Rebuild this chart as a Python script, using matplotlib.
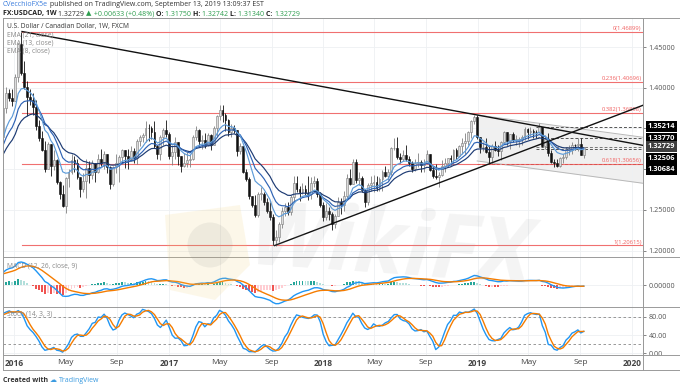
"""
USD/CAD weekly chart in TradingView style: candles with EMAs, fib levels,
trendlines, MACD and stochastic panels.
"""
import numpy as np
import pandas as pd
import matplotlib
matplotlib.use("Agg")
import matplotlib.pyplot as plt
import matplotlib.dates as mdates
import matplotlib.patches as patches

plt.rcParams['font.family'] = ['Open Sans', 'DejaVu Sans']

# ---------------------------------------------------------------- data
FIRST_WEEK = "2015-06-01"
FIRST_OPEN = 1.2420

# weekly closes (2015 includes off-screen warm-up weeks from June)
closes_2015 = [1.2470, 1.2290, 1.2290, 1.2380, 1.2580, 1.2710, 1.2960, 1.3010, 1.3070, 1.3140,
               1.3100, 1.3220, 1.3190, 1.3260, 1.3240, 1.3250, 1.3400, 1.3160, 1.3000, 1.2950,
               1.3180, 1.3070, 1.3300, 1.3340, 1.3360, 1.3370, 1.3390,
               1.3745, 1.3935, 1.3870, 1.3840]
closes_2016 = [1.4130, 1.4540, 1.4185, 1.4010, 1.3880, 1.3855, 1.3765, 1.3530, 1.3380, 1.3240,
               1.3000, 1.3310, 1.3040, 1.3110, 1.2840, 1.2700, 1.2550, 1.2890, 1.2970, 1.3110,
               1.3070, 1.2900, 1.2750, 1.2850, 1.3010, 1.2930, 1.3070, 1.2970, 1.3120, 1.3070,
               1.3180, 1.3030, 1.2820, 1.3020, 1.3080, 1.3150, 1.3240, 1.3160, 1.3120, 1.3220,
               1.3140, 1.3350, 1.3400, 1.3420, 1.3510, 1.3500, 1.3450, 1.3280, 1.3180, 1.3390,
               1.3480, 1.3430]
closes_2017 = [1.3160, 1.3210, 1.3330, 1.3160, 1.3040, 1.3080, 1.3110, 1.3130, 1.3400, 1.3480,
               1.3350, 1.3360, 1.3300, 1.3420, 1.3300, 1.3500, 1.3650, 1.3730, 1.3660, 1.3600,
               1.3450, 1.3500, 1.3480, 1.3220, 1.3280, 1.2970, 1.2880, 1.2670, 1.2560, 1.2430,
               1.2700, 1.2700, 1.2600, 1.2480, 1.2410, 1.2130, 1.2160, 1.2330, 1.2480, 1.2540,
               1.2470, 1.2660, 1.2830, 1.2750, 1.2720, 1.2760, 1.2710, 1.2690, 1.2830, 1.2850,
               1.2690, 1.2560]
closes_2018 = [1.2410, 1.2490, 1.2450, 1.2330, 1.2420, 1.2590, 1.2560, 1.2670, 1.2890, 1.2820,
               1.3090, 1.2860, 1.2890, 1.2740, 1.2590, 1.2800, 1.2830, 1.2840, 1.2770, 1.2880,
               1.2960, 1.2920, 1.2960, 1.3260, 1.3260, 1.3150, 1.3130, 1.3170, 1.3120, 1.3070,
               1.3000, 1.3080, 1.3090, 1.3050, 1.3070, 1.3180, 1.2990, 1.2920, 1.2900, 1.2930,
               1.3040, 1.3080, 1.3140, 1.3120, 1.3230, 1.3160, 1.3280, 1.3320, 1.3340, 1.3450,
               1.3590, 1.3640, 1.3390]
closes_2019 = [1.3270, 1.3270, 1.3210, 1.3150, 1.3280, 1.3240, 1.3220, 1.3330, 1.3450, 1.3340,
               1.3430, 1.3360, 1.3360, 1.3370, 1.3400, 1.3490, 1.3460, 1.3470, 1.3460, 1.3450,
               1.3520, 1.3280, 1.3370, 1.3200, 1.3090, 1.3080, 1.3040, 1.3140, 1.3150, 1.3240,
               1.3240, 1.3300, 1.3290, 1.3310, 1.3175, 1.32729]

highs_2015 = [1.2560, 1.2480, 1.2380, 1.2400, 1.2620, 1.2800, 1.3000, 1.3080, 1.3110, 1.3200,
              1.3180, 1.3260, 1.3350, 1.3300, 1.3330, 1.3320, 1.3460, 1.3460, 1.3180, 1.3030,
              1.3240, 1.3250, 1.3310, 1.3370, 1.3390, 1.3430, 1.3520,
              1.3760, 1.4005, 1.3990, 1.3990]
highs_2016 = [1.4170, 1.4550, 1.4690, 1.4325, 1.4080, 1.3990, 1.3930, 1.3850, 1.3600, 1.3470,
              1.3350, 1.3330, 1.3300, 1.3230, 1.3120, 1.2850, 1.2800, 1.2900, 1.3000, 1.3190,
              1.3160, 1.3130, 1.2900, 1.2950, 1.3120, 1.3100, 1.3110, 1.3040, 1.3180, 1.3250,
              1.3220, 1.3190, 1.3040, 1.3040, 1.3180, 1.3170, 1.3250, 1.3240, 1.3250, 1.3280,
              1.3260, 1.3370, 1.3420, 1.3440, 1.3590, 1.3560, 1.3530, 1.3590, 1.3300, 1.3420,
              1.3510, 1.3600]
highs_2017 = [1.3450, 1.3300, 1.3390, 1.3330, 1.3150, 1.3200, 1.3210, 1.3180, 1.3420, 1.3530,
              1.3490, 1.3420, 1.3440, 1.3440, 1.3430, 1.3530, 1.3670, 1.3790, 1.3790, 1.3690,
              1.3620, 1.3550, 1.3540, 1.3380, 1.3320, 1.3280, 1.3000, 1.2900, 1.2670, 1.2680,
              1.2720, 1.2780, 1.2720, 1.2650, 1.2600, 1.2450, 1.2250, 1.2350, 1.2530, 1.2580,
              1.2600, 1.2680, 1.2910, 1.2920, 1.2790, 1.2830, 1.2810, 1.2920, 1.2900, 1.2920,
              1.2890, 1.2720]
highs_2018 = [1.2600, 1.2580, 1.2530, 1.2470, 1.2450, 1.2660, 1.2640, 1.2730, 1.2940, 1.3000,
              1.3120, 1.3130, 1.2960, 1.2920, 1.2750, 1.2830, 1.2910, 1.2930, 1.2910, 1.2900,
              1.2990, 1.3040, 1.3000, 1.3270, 1.3380, 1.3390, 1.3200, 1.3230, 1.3290, 1.3160,
              1.3100, 1.3130, 1.3200, 1.3110, 1.3120, 1.3230, 1.3190, 1.3040, 1.3060, 1.2960,
              1.3110, 1.3140, 1.3140, 1.3170, 1.3250, 1.3260, 1.3290, 1.3380, 1.3440, 1.3470,
              1.3600, 1.3665, 1.3660]
highs_2019 = [1.3380, 1.3330, 1.3380, 1.3290, 1.3310, 1.3340, 1.3290, 1.3340, 1.3470, 1.3460,
              1.3430, 1.3450, 1.3420, 1.3400, 1.3420, 1.3520, 1.3500, 1.3520, 1.3490, 1.3480,
              1.3565, 1.3520, 1.3420, 1.3440, 1.3230, 1.3130, 1.3130, 1.3150, 1.3190, 1.3270,
              1.3290, 1.3330, 1.3310, 1.3380, 1.3380, 1.32742]

lows_2015 = [1.2350, 1.2270, 1.2160, 1.2250, 1.2350, 1.2550, 1.2680, 1.2900, 1.2950, 1.3010,
             1.2960, 1.3050, 1.3120, 1.3050, 1.3130, 1.3020, 1.3200, 1.3120, 1.2910, 1.2830,
             1.2960, 1.3020, 1.3030, 1.3160, 1.3240, 1.3280, 1.3150,
             1.3380, 1.3690, 1.3835, 1.3780]
lows_2016 = [1.3840, 1.4070, 1.4150, 1.3980, 1.3650, 1.3790, 1.3660, 1.3480, 1.3340, 1.3220,
             1.2970, 1.3000, 1.2920, 1.2990, 1.2820, 1.2630, 1.2530, 1.2460, 1.2780, 1.2940,
             1.2960, 1.2880, 1.2660, 1.2720, 1.2650, 1.2830, 1.2880, 1.2840, 1.2950, 1.3040,
             1.3000, 1.2950, 1.2760, 1.2790, 1.2950, 1.2840, 1.3060, 1.3010, 1.3000, 1.3100,
             1.3080, 1.3060, 1.3280, 1.3330, 1.3330, 1.3350, 1.3370, 1.3260, 1.3120, 1.3110,
             1.3300, 1.3400]
lows_2017 = [1.3120, 1.3050, 1.3130, 1.3050, 1.2970, 1.3030, 1.3020, 1.3030, 1.3110, 1.3360,
             1.3290, 1.3250, 1.3260, 1.3280, 1.3240, 1.3290, 1.3400, 1.3600, 1.3580, 1.3470,
             1.3410, 1.3400, 1.3440, 1.3160, 1.3180, 1.2950, 1.2850, 1.2630, 1.2530, 1.2410,
             1.2410, 1.2620, 1.2560, 1.2460, 1.2370, 1.2070, 1.2061, 1.2110, 1.2280, 1.2420,
             1.2440, 1.2440, 1.2600, 1.2720, 1.2610, 1.2690, 1.2680, 1.2620, 1.2630, 1.2780,
             1.2660, 1.2540]
lows_2018 = [1.2360, 1.2380, 1.2370, 1.2250, 1.2280, 1.2420, 1.2450, 1.2490, 1.2640, 1.2800,
             1.2950, 1.2830, 1.2800, 1.2720, 1.2530, 1.2560, 1.2730, 1.2720, 1.2730, 1.2730,
             1.2730, 1.2900, 1.2870, 1.2930, 1.3230, 1.3130, 1.3070, 1.3100, 1.3100, 1.3040,
             1.2970, 1.2980, 1.3020, 1.2960, 1.2970, 1.3060, 1.2980, 1.2890, 1.2880, 1.2780,
             1.2920, 1.2960, 1.3020, 1.3050, 1.3060, 1.3130, 1.3150, 1.3190, 1.3180, 1.3290,
             1.3380, 1.3560, 1.3370]
lows_2019 = [1.3200, 1.3220, 1.3200, 1.3070, 1.3080, 1.3220, 1.3160, 1.3110, 1.3310, 1.3300,
             1.3250, 1.3330, 1.3300, 1.3270, 1.3300, 1.3360, 1.3370, 1.3410, 1.3380, 1.3380,
             1.3440, 1.3270, 1.3250, 1.3160, 1.3070, 1.3020, 1.3020, 1.3020, 1.3070, 1.3130,
             1.3170, 1.3180, 1.3230, 1.3220, 1.3170, 1.31340]

# fibonacci retracement of the Jan-2016 high to Sep-2017 low
fib_ratios = [0, 0.236, 0.382, 0.618, 1]
fib_labels = ["0(1.46899)", "0.236(1.40696)", "0.382(1.36858)", "0.618(1.30656)", "1(1.20615)"]
fib_high, fib_low = 1.46899, 1.20615
fib_start = "2016-01-20"

# trendline anchors (date, price)
falling_line = [("2016-01-20", 1.4690), ("2018-12-31", 1.3665)]
rising_line = [("2017-09-08", 1.2061), ("2019-01-31", 1.3070)]
channel_top = [("2018-12-31", 1.3665), ("2019-12-31", 1.3410)]
channel_bottom = [("2018-12-31", 1.3100), ("2019-12-31", 1.2845)]

# marked horizontal levels and their price-axis tags
levels = [1.35214, 1.33770, 1.32729, 1.32506, 1.30684]
level_starts = ["2019-05-20", "2019-05-20", "2019-05-20", "2019-05-20", "2018-12-31"]

x_ticks = ["2016-01-01", "2016-05-01", "2016-09-01", "2017-01-01", "2017-05-01", "2017-09-01",
           "2018-01-01", "2018-05-01", "2018-09-01", "2019-01-01", "2019-05-01", "2019-09-01",
           "2020-01-01"]
x_tick_labels = ["2016", "May", "Sep", "2017", "May", "Sep", "2018", "May", "Sep",
                 "2019", "May", "Sep", "2020"]

# ---------------------------------------------------------------- prep
closes = np.array(closes_2015 + closes_2016 + closes_2017 + closes_2018 + closes_2019)
highs = np.array(highs_2015 + highs_2016 + highs_2017 + highs_2018 + highs_2019)
lows = np.array(lows_2015 + lows_2016 + lows_2017 + lows_2018 + lows_2019)
assert len(closes) == len(highs) == len(lows)
weeks = pd.date_range(FIRST_WEEK, periods=len(closes), freq="7D")
xw = mdates.date2num(weeks)
opens = np.concatenate([[FIRST_OPEN], closes[:-1]])
highs = np.maximum(highs, np.maximum(opens, closes))
lows = np.minimum(lows, np.minimum(opens, closes))

s = pd.Series(closes)
emas = {n: s.ewm(span=n, adjust=False).mean().values for n in (21, 13, 8)}
macd = s.ewm(span=12, adjust=False).mean() - s.ewm(span=26, adjust=False).mean()
signal = macd.ewm(span=9, adjust=False).mean()
hist = macd - signal
hh = pd.Series(highs).rolling(14).max()
ll = pd.Series(lows).rolling(14).min()
stoch_k = (100 * (s - ll) / (hh - ll)).rolling(3).mean()
stoch_d = stoch_k.rolling(3).mean()

W, H = 680, 387
def fx(px):
    return px / W
def fy(py):
    return 1 - py / H

def price_at(py):
    """Maps a pixel row of the reference to a price."""
    return 1.45 - (py - 47) / 40.7 * 0.05

x0 = mdates.date2num(pd.Timestamp("2016-01-01"))
def date_at(px):
    return x0 + (px - 14) / 154.5 * 365.25

XLIM = (date_at(3), date_at(643))

def line_through(ax, pts, x_end, **kw):
    (d1, p1), (d2, p2) = pts
    a, b = mdates.date2num(pd.Timestamp(d1)), mdates.date2num(pd.Timestamp(d2))
    slope = (p2 - p1) / (b - a)
    ax.plot([a, x_end], [p1, p1 + slope * (x_end - a)], **kw)
    return a, p1, slope

GRID = '#eef0f3'
AXIS_TXT = '#555555'
BORDER = '#9a9a9a'

# ---------------------------------------------------------------- figure
fig = plt.figure(figsize=(6.8, 3.87), dpi=100)
L, R = fx(3), fx(643)
ax = fig.add_axes([L, fy(257), R - L, fy(18) - fy(257)])
ax_macd = fig.add_axes([L, fy(307), R - L, fy(257) - fy(307)], sharex=ax)
ax_st = fig.add_axes([L, fy(355), R - L, fy(307) - fy(355)], sharex=ax)

for a in (ax, ax_macd, ax_st):
    a.set_facecolor('white')
    for sp in a.spines.values():
        sp.set_color(BORDER)
        sp.set_linewidth(0.7)
    a.yaxis.tick_right()
    a.tick_params(axis='y', labelsize=5.2, colors=AXIS_TXT, length=2, width=0.5, pad=2)
    a.tick_params(axis='y', labelcolor=AXIS_TXT)
    a.tick_params(axis='x', length=0)
    a.set_xticks(mdates.date2num(pd.to_datetime(x_ticks)))
    a.grid(True, color=GRID, linewidth=0.6)
    a.set_axisbelow(True)
ax.tick_params(axis='x', labelbottom=False)
ax_macd.tick_params(axis='x', labelbottom=False)
ax.set_xlim(*XLIM)

# ---- main panel
ax.set_ylim(price_at(257), price_at(18))
ax.set_yticks([1.20, 1.25, 1.30, 1.35, 1.40, 1.45])
ax.set_yticklabels(["1.20000", "1.25000", "", "", "1.40000", "1.45000"])

x_right = XLIM[1]
fib_x = mdates.date2num(pd.Timestamp(fib_start))
for r, lab in zip(fib_ratios, fib_labels):
    lvl = fib_high - r * (fib_high - fib_low)
    ax.plot([fib_x, x_right], [lvl, lvl], color='#f07070', lw=0.8, zorder=1)
    ax.text(x_right - 3, lvl + 0.0012, lab, color='#f06060', fontsize=4.2,
            ha='right', va='bottom', zorder=1)

# channel shading
a0, p0, k0 = line_through(ax, channel_top, x_right, color='#b8b8b8', lw=0.7, zorder=1)
a1, p1, k1 = line_through(ax, channel_bottom, x_right, color='#b8b8b8', lw=0.7, zorder=1)
xs = np.array([a0, x_right])
ax.fill_between(xs, p1 + k1 * (xs - a1), p0 + k0 * (xs - a0), color='#e6e6e6',
                alpha=0.6, lw=0, zorder=0.5)

for lvl, st in zip(levels, level_starts):
    xs_ = mdates.date2num(pd.Timestamp(st))
    col = '#d9534f' if lvl < 1.31 else '#555555'
    if lvl == 1.32729:
        col = '#777777'
    ax.plot([xs_, x_right], [lvl, lvl], color=col, lw=0.7, ls=(0, (3, 2)), zorder=1.5)

# candles
up = closes >= opens
bw = 4.4
ax.vlines(xw[up], lows[up], highs[up], color='#808080', lw=0.6, zorder=2)
ax.vlines(xw[~up], lows[~up], highs[~up], color='#111111', lw=0.6, zorder=2)
ax.bar(xw[up], np.maximum(closes - opens, 0.0004)[up], bottom=opens[up], width=bw,
       color='#dcdcdc', edgecolor='#7a7a7a', lw=0.4, zorder=3)
ax.bar(xw[~up], np.maximum(opens - closes, 0.0004)[~up], bottom=closes[~up], width=bw,
       color='#111111', edgecolor='#111111', lw=0.4, zorder=3)

ema_colors = {21: '#1d3b73', 13: '#2e63b5', 8: '#5d9bd8'}
for n in (21, 13, 8):
    ax.plot(xw, emas[n], color=ema_colors[n], lw=0.85, zorder=4)

line_through(ax, falling_line, x_right, color='#111111', lw=1.0, zorder=5)
line_through(ax, rising_line, x_right, color='#111111', lw=1.0, zorder=5)

# price tags on the axis
tag_shift_px = [0, 0, 0, 10, 6]
for lvl, sh in zip(levels, tag_shift_px):
    fc = '#3d3d3d' if lvl == 1.32729 else '#000000'
    ax.annotate(f"{lvl:.5f}", xy=(1, lvl), xycoords=('axes fraction', 'data'),
                xytext=(3.5, -sh * 0.72), textcoords='offset points', ha='left',
                va='center', fontsize=5.3, color='white', fontweight='bold',
                bbox=dict(boxstyle='square,pad=0.28', fc=fc, ec='none'),
                annotation_clip=False, zorder=10)

# legend texts
ax.text(0.006, 0.963, "U.S. Dollar / Canadian Dollar, 1W, FXCM", transform=ax.transAxes,
        fontsize=4.8, color='#333333', va='center', zorder=6)
for i, n in enumerate((21, 13, 8)):
    ax.text(0.006, 0.93 - i * 0.034, f"EMA ({n}, close)", transform=ax.transAxes,
            fontsize=4.8, color='#888888', va='center', zorder=6)

# ---- MACD panel
vis = xw >= XLIM[0]
u = macd[vis].max() / 23.0
ax_macd.set_ylim(-22 * u, 28 * u)
ax_macd.set_yticks([0])
ax_macd.set_yticklabels(["0.00000"])
prev = hist.shift(1).fillna(0)
hcol = np.where(hist >= 0, np.where(hist >= prev, '#26a69a', '#b2dfdb'),
                np.where(hist < prev, '#ef5350', '#ffcdd2'))
ax_macd.bar(xw, hist, width=4.4, color=hcol, lw=0, zorder=2)
ax_macd.plot(xw, macd, color='#2196f3', lw=1.0, zorder=3)
ax_macd.plot(xw, signal, color='#f57c00', lw=1.0, zorder=3)
ax_macd.text(0.006, 0.82, "MACD (12, 26, close, 9)", transform=ax_macd.transAxes,
             fontsize=4.8, color='#888888', va='center')

# ---- Stochastic panel
ax_st.set_ylim(-4.4, 102.2)
ax_st.set_yticks([0, 40, 80])
ax_st.set_yticklabels(["0.00", "40.00", "80.00"])
for lv in (80, 20):
    ax_st.axhline(lv, color='#888888', lw=0.6, ls=(0, (3, 3)), zorder=1)
ax_st.plot(xw, stoch_k, color='#2196f3', lw=1.0, zorder=3)
ax_st.plot(xw, stoch_d, color='#f57c00', lw=1.0, zorder=3)
ax_st.text(0.006, 0.86, "Stoch (14, 3, 3)", transform=ax_st.transAxes,
           fontsize=4.8, color='#888888', va='center')
ax_st.set_xticklabels(x_tick_labels)
ax_st.tick_params(axis='x', labelsize=6, colors='#444444', pad=3)
for t, lab in zip(ax_st.get_xticklabels(), x_tick_labels):
    if lab.isdigit():
        t.set_fontweight('bold')

# ---- frame around the whole chart
fig.add_artist(plt.Line2D([fx(3), fx(680)], [fy(18), fy(18)], color=BORDER, lw=0.7))
fig.add_artist(plt.Line2D([fx(3), fx(680)], [fy(370), fy(370)], color=BORDER, lw=0.7))
fig.add_artist(plt.Line2D([fx(3), fx(3)], [fy(18), fy(370)], color=BORDER, lw=0.7))
fig.add_artist(plt.Line2D([fx(643), fx(643)], [fy(18), fy(370)], color=BORDER, lw=0.7))
fig.add_artist(plt.Line2D([fx(643), fx(680)], [fy(257), fy(257)], color=BORDER, lw=0.7))
fig.add_artist(plt.Line2D([fx(643), fx(680)], [fy(307), fy(307)], color=BORDER, lw=0.7))
fig.add_artist(plt.Line2D([fx(643), fx(680)], [fy(355), fy(355)], color=BORDER, lw=0.7))

# ---- watermark
logo = patches.Polygon([[fx(165), fy(215)], [fx(240), fy(205)], [fx(250), fy(265)],
                        [fx(215), fy(300)], [fx(170), fy(290)]], closed=True,
                       transform=fig.transFigure, fc='#f2d27a', ec='none', alpha=0.16, zorder=20)
fig.add_artist(logo)
fig.add_artist(patches.Ellipse((fx(210), fy(245)), fx(45), 45 / H, transform=fig.transFigure,
                               fc='#7a7a7a', ec='none', alpha=0.10, zorder=20))
fig.text(fx(390), fy(250), "WikiFX", fontsize=64, fontweight='bold', style='italic',
         color='#9a9a9a', alpha=0.11, ha='center', va='center', rotation=-4, zorder=20)

# ---- header and footer
renderer = fig.canvas.get_renderer()

def draw_segments(x_px, y_px, segments, size=5.0):
    """Writes text pieces one after another on the same line."""
    x = fx(x_px)
    for txt, col, weight in segments:
        t = fig.text(x, fy(y_px), txt, fontsize=size, color=col, fontweight=weight,
                     va='center', ha='left')
        bb = t.get_window_extent(renderer=renderer)
        x += bb.width / W

draw_segments(3, 5, [("CVecchioFX5e", '#3b7ddd', 'normal'),
                     (" published on TradingView.com, September 13, 2019 13:09:37 EST",
                      '#333333', 'normal')])
GREEN = '#2e9e4f'
draw_segments(3, 14, [("FX:USDCAD, 1W ", '#222222', 'bold'), ("1.32729 ", '#333333', 'normal'),
                      ("\u25b2", GREEN, 'normal'), (" +0.00633 (+0.48%) ", GREEN, 'normal'),
                      ("O: ", '#222222', 'bold'), ("1.31750 ", GREEN, 'normal'),
                      ("H: ", '#222222', 'bold'), ("1.32742 ", GREEN, 'normal'),
                      ("L: ", '#222222', 'bold'), ("1.31340 ", GREEN, 'normal'),
                      ("C: ", '#222222', 'bold'), ("1.32729", GREEN, 'normal')])
draw_segments(3, 380, [("Created with ", '#333333', 'bold'), ("\u2601 ", '#3b9be0', 'normal'),
                       ("TradingView", '#3b9be0', 'normal')])

fig.savefig("out.png", dpi=100)
